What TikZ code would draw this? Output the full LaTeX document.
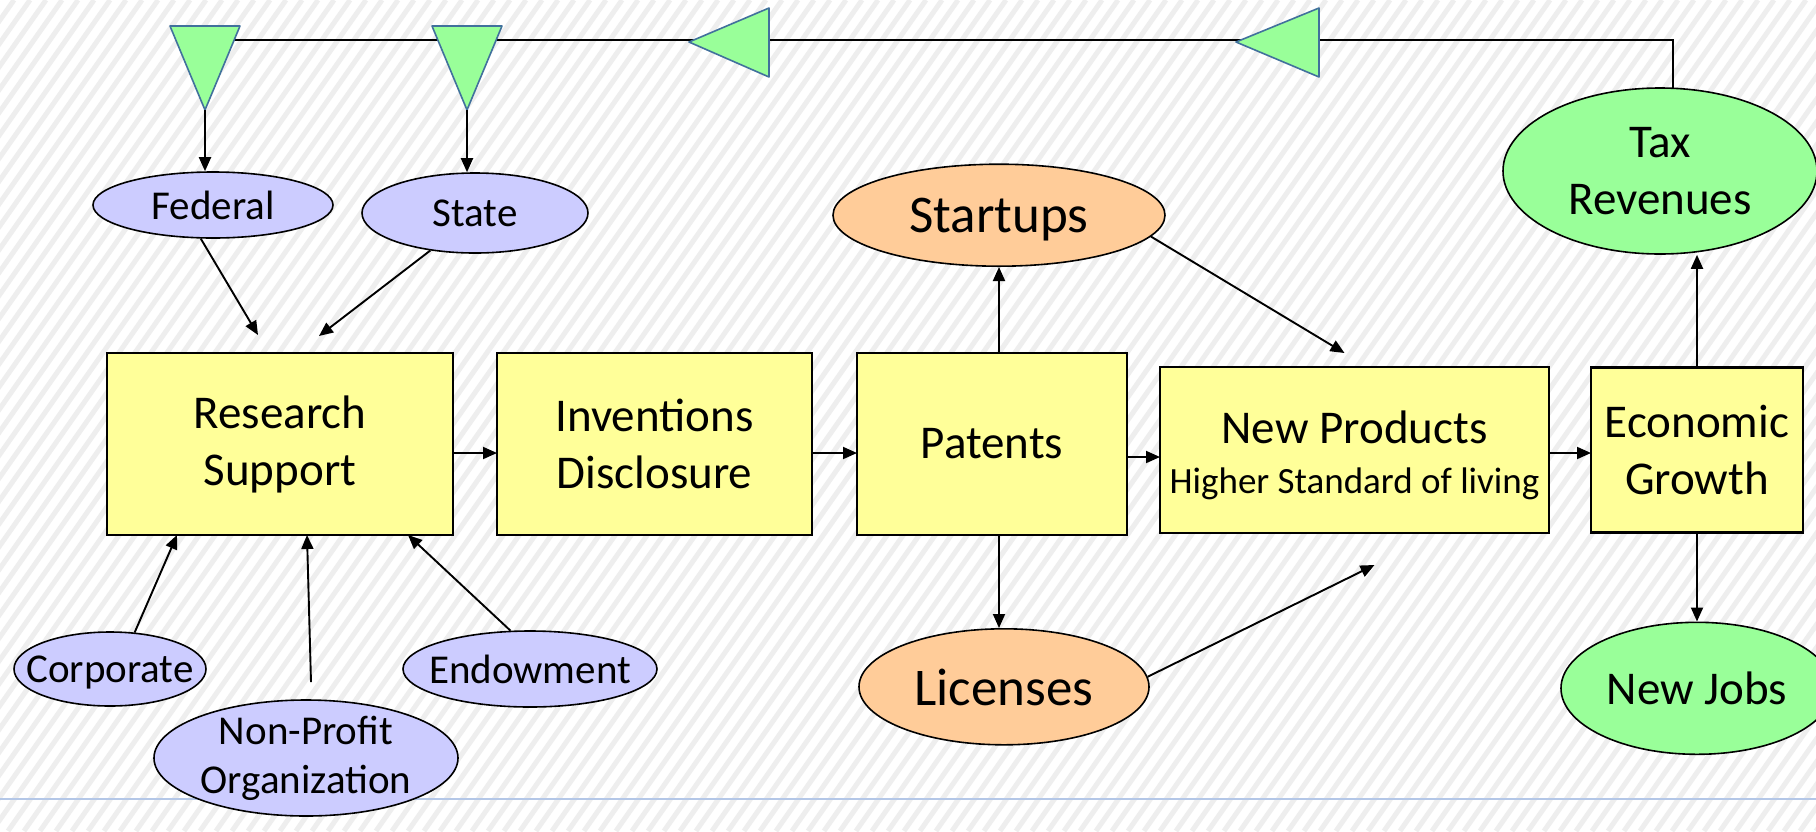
\documentclass[tikz,border=0pt]{standalone}
\usepackage{fontspec}
\setmainfont{Carlito}
\usepackage{tikz}
\usetikzlibrary{arrows.meta, positioning, shapes.geometric}
\definecolor{boxyellow}{HTML}{FFFF99}
\definecolor{fundblue}{HTML}{CCCCFF}
\definecolor{outorange}{HTML}{FFCC99}
\definecolor{gaingreen}{HTML}{99FF99}
\definecolor{valveedge}{HTML}{41719C}
\definecolor{stripegray}{HTML}{EEEEEE}
\definecolor{rulerblue}{HTML}{B4C7E7}

\begin{document}
\begin{tikzpicture}[
    x=1pt, y=-1pt,
    node distance=44pt,
    box/.style={draw, fill=boxyellow, line width=2.2pt, align=center, inner sep=0pt, outer sep=0pt, font=\fontsize{47}{57}\selectfont},
    fund/.style={draw, ellipse, fill=fundblue, line width=1.6pt, align=center, inner xsep=-20pt, inner ysep=-15pt, font=\fontsize{41}{49}\selectfont},
    outcome/.style={fund, fill=outorange, text depth=0pt, font=\fontsize{53}{64}\selectfont},
    gain/.style={fund, fill=gaingreen, font=\fontsize{47}{57}\selectfont},
    valve/.style={fill=gaingreen, draw=valveedge, line width=1.6pt, line join=round},
    arrow/.style={-{Triangle[length=14pt, width=12pt]}, line width=1.9pt},
    stripe/.style={stripegray, line width=5pt}
]

% Background
\useasboundingbox (0,0) rectangle (1816,831);
\fill[white] (0,0) rectangle (1816,831);
\begin{scope}
\clip (0,0) rectangle (1816,831);
\foreach \x in {-600,-584,...,1816} \draw[stripe] (\x,831) -- ++(582,-831);
\end{scope}
\draw[rulerblue, line width=1.2pt] (0,799) -- (1816,799);

% Nodes
\node[box, minimum width=346pt, minimum height=182pt] (RS) at (280,444) {Research\\Support};
\node[box, minimum width=315pt, minimum height=182pt, right=44pt of RS] (ID) {Inventions\\Disclosure};
\node[box, minimum width=270pt, minimum height=182pt, right=45pt of ID] (P) {Patents};
\node[box, minimum width=389pt, minimum height=166pt, right=33pt of P, yshift=-6pt] (NP) {\rule{0pt}{44pt}New Products\\[-7pt]{\fontsize{37}{45}\selectfont Higher Standard of living}};
\node[box, minimum width=212pt, minimum height=165pt, right=42pt of NP] (EG) {Economic\\Growth};

\node[fund, minimum width=240pt, minimum height=66pt] (Fed) at (213,205) {Federal};
\node[fund, minimum width=226pt, minimum height=80pt] (St) at (475,213) {State};
\node[fund, minimum width=192pt, minimum height=74pt, text depth=0pt] (Corp) at (110,669) {Corporate};
\node[fund, minimum width=254pt, minimum height=76pt] (End) at (530,669) {Endowment};
\node[fund, minimum width=304pt, minimum height=116pt] (NPO) at (306,758) {Non-Profit\\Organization};

\node[outcome, minimum width=332pt, minimum height=102pt, above=86pt of P, xshift=7pt] (S) {Startups};
\node[outcome, minimum width=290pt, minimum height=116pt, below=93pt of P, xshift=12pt] (L) {Licenses};

\node[gain, minimum width=314pt, minimum height=166pt] (Tax) at (1660,171) {Tax\\Revenues};
\node[gain, minimum width=272pt, minimum height=132pt, below=89pt of EG] (NJ) {New Jobs};

% Feedback loop
\coordinate (loop) at (205,40);
\coordinate (v1) at (205,110);
\coordinate (v2) at (467,110);
\draw[line width=1.9pt] (Tax.81) |- (loop);
\draw[valve] (170,26) -- (240,26) -- (v1) -- cycle;
\draw[valve] (432,26) -- (502,26) -- (v2) -- cycle;
\draw[valve] (689,42) -- (769,8) -- (769,77) -- cycle;
\draw[valve] (1236,42) -- (1319,8) -- (1319,77) -- cycle;

% Arrows
\draw[arrow] (v1) -- (v1 |- Fed.north);
\draw[arrow] (v2) -- (v2 |- St.north);
\draw[arrow] (Fed.-110) -- ([shift={(-22pt,18pt)}]RS.north);
\draw[arrow] (St.-140) -- ([shift={(39pt,17pt)}]RS.north);
\draw[arrow] (Corp.56) -- ([xshift=70pt]RS.south west);
\draw[arrow] ([shift={(5pt,17pt)}]NPO.north) -- ([xshift=27pt]RS.south);
\draw[arrow] (End.117) -- ([xshift=-45pt]RS.south east);

\draw[arrow] ([yshift=-9pt]RS.east) -- ([yshift=-9pt]ID.west);
\draw[arrow] ([yshift=-9pt]ID.east) -- ([yshift=-9pt]P.west);
\draw[arrow] ([yshift=-13pt]P.east) -- ([yshift=-13pt]P.east -| NP.west);
\draw[arrow] ([yshift=-3pt]NP.east) -- ([yshift=-3pt]NP.east -| EG.west);

\draw[arrow] (P.north -| S.south) -- (S.south);
\draw[arrow] (P.south -| S.south) -- (L.north -| S.south);
\draw[arrow] (S.-8) -- ([shift={(-10pt,14pt)}]NP.north);
\draw[arrow] (L.4) -- ([shift={(20pt,-32pt)}]NP.south);
\draw[arrow] (EG.north) -- (EG.north |- Tax.south);
\draw[arrow] (EG.south) -- (NJ.north);

\end{tikzpicture}
\end{document}
